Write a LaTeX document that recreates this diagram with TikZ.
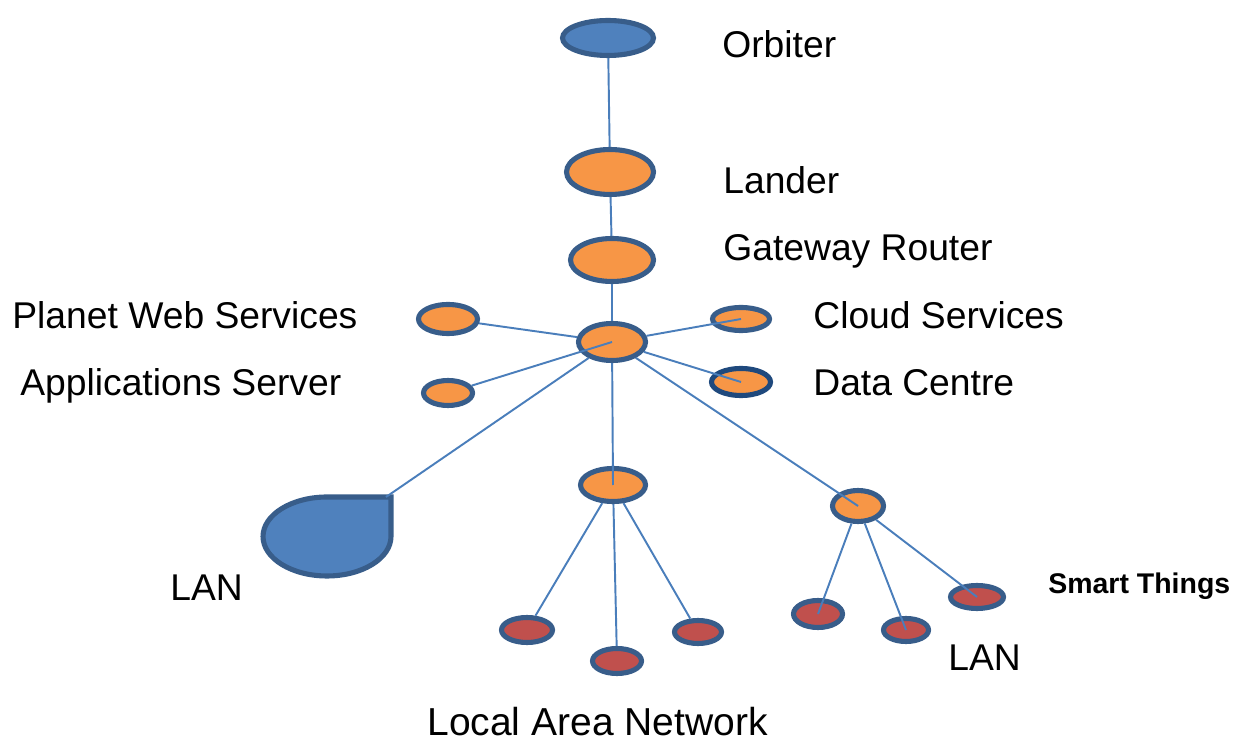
\documentclass[tikz,border=0pt]{standalone}
\usepackage{fontspec}
\setmainfont{Liberation Sans}
\usepackage{tikz}
\usetikzlibrary{shapes.geometric}
\definecolor{rim}{HTML}{385D8A}
\definecolor{darkrim}{HTML}{1F497D}
\definecolor{wire}{HTML}{4A7EBB}
\definecolor{orangefill}{HTML}{F79646}
\definecolor{bluefill}{HTML}{4F81BD}
\definecolor{redfill}{HTML}{C0504D}

\begin{document}
\begin{tikzpicture}[x = 0.02cm, y = -0.02cm,
        site/.style = {ellipse, draw = rim, line width = 2.9pt, inner sep = 0pt},
        orangesite/.style = {site, fill = orangefill},
        bluesite/.style = {site, fill = bluefill},
        redsite/.style = {site, fill = redfill},
        wirelink/.style = {draw = wire, line width = 1.1pt},
        caption/.style = {anchor = base west, inner sep = 0pt, font = \fontsize{21.2}{25}\selectfont}]
        \useasboundingbox (0, 0) rectangle (1250, 742);
        % backbone
        \node[bluesite, minimum width = 1.82cm, minimum height = 0.7cm] (orbiter) at (608, 38) {};
        \node[orangesite, minimum width = 1.74cm, minimum height = 0.9cm] (lander) at (610, 172) {};
        \node[orangesite, minimum width = 1.66cm, minimum height = 0.86cm] (gateway) at (612, 260) {};
        \node[orangesite, minimum width = 1.34cm, minimum height = 0.74cm] (hub) at (612, 342) {};
        % services round the hub
        \node[orangesite, minimum width = 1.18cm, minimum height = 0.58cm] (planetweb) at (448, 319) {};
        \node[orangesite, minimum width = 0.98cm, minimum height = 0.5cm] (appserver) at (448, 393) {};
        \node[orangesite, minimum width = 1.14cm, minimum height = 0.46cm] (cloud) at (741, 319) {};
        \node[orangesite, draw = darkrim, minimum width = 1.18cm, minimum height = 0.54cm] (datacentre) at (741, 382) {};
        % networks
        \node[orangesite, minimum width = 1.3cm, minimum height = 0.66cm] (lanhub) at (613, 485) {};
        \node[orangesite, minimum width = 1.02cm, minimum height = 0.62cm] (thingshub) at (858, 506) {};
        \node[redsite, minimum width = 1.02cm, minimum height = 0.5cm] (hostA) at (527, 630) {};
        \node[redsite, minimum width = 0.98cm, minimum height = 0.5cm] (hostB) at (617, 661) {};
        \node[redsite, minimum width = 0.94cm, minimum height = 0.46cm] (hostC) at (698, 632) {};
        \node[redsite, minimum width = 0.98cm, minimum height = 0.54cm] (thingA) at (818, 614) {};
        \node[redsite, minimum width = 0.9cm, minimum height = 0.46cm] (thingB) at (906, 630) {};
        \node[redsite, minimum width = 1.06cm, minimum height = 0.46cm] (thingC) at (977, 597) {};
        % the LAN drop
        \filldraw[fill = bluefill, draw = rim, line width = 2.9pt, line join = miter]
            (391, 497) -- (327, 497)
            arc[start angle = 90, end angle = 270, x radius = 1.28cm, y radius = 0.79cm]
            arc[start angle = 270, end angle = 360, x radius = 1.28cm, y radius = 0.79cm]
            -- cycle;
        \coordinate (landrop) at (386, 497);
        % links
        \draw[wirelink] (orbiter) -- (lander);
        \draw[wirelink] (lander) -- (gateway);
        \draw[wirelink] (gateway) -- (hub);
        \draw[wirelink] (hub) -- (planetweb);
        \draw[wirelink] (hub.center) -- (appserver);
        \draw[wirelink] (hub) -- (cloud.center);
        \draw[wirelink] (hub) -- (datacentre.center);
        \draw[wirelink] (hub) -- (landrop);
        \draw[wirelink] (hub) -- (lanhub.center);
        \draw[wirelink] (hub) -- (thingshub.center);
        \foreach \h in {hostA, hostB, hostC}
            {
                \draw[wirelink] (lanhub) -- (\h);
            }
        \foreach \t in {thingA, thingB, thingC}
            {
                \draw[wirelink] (thingshub) -- (\t.center);
            }
        % captions
        \node[caption] (orbitertext) at (722, 58) {Orbiter};
        \node[caption] (landertext) at (723, 194) {Lander};
        \node[caption] (gatewaytext) at (723, 261) {Gateway Router};
        \node[caption] (planettext) at (12, 329) {Planet Web Services};
        \node[caption] (cloudtext) at (813, 329) {Cloud Services};
        \node[caption] (apptext) at (20, 396) {Applications Server};
        \node[caption] (datatext) at (813, 396) {Data Centre};
        \node[caption] (lantext) at (170, 601) {LAN};
        \node[caption] (thingslantext) at (948, 670) {LAN};
        \node[caption, font = \fontsize{22.2}{26}\selectfont] (localtext) at (427, 735) {Local Area Network};
        \node[caption, font = \bfseries\fontsize{16.2}{19}\selectfont] (smarttext) at (1048, 593) {Smart Things};
    \end{tikzpicture}
\end{document}
